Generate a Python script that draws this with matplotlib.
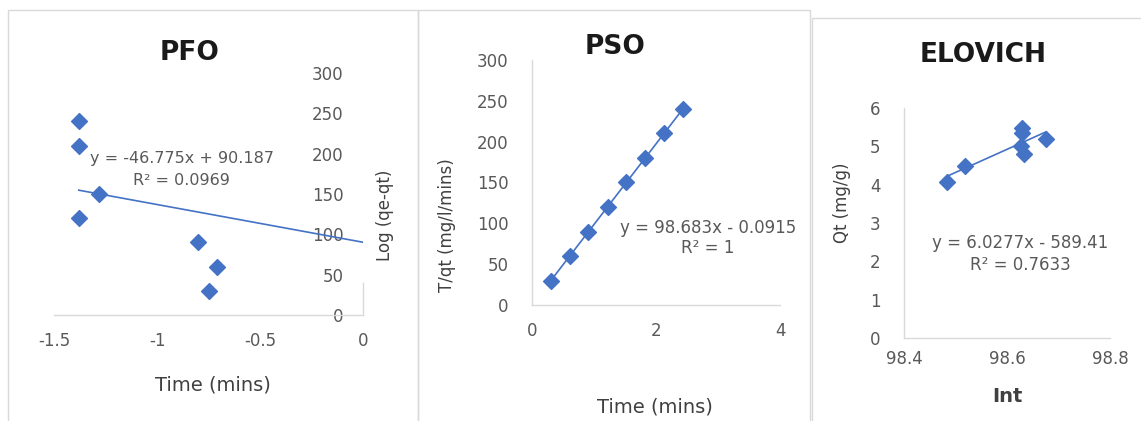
import matplotlib
matplotlib.use("Agg")
import matplotlib.pyplot as plt
from matplotlib.patches import Rectangle

plt.rcParams['font.family'] = ['DejaVu Sans']
plt.rcParams['axes.unicode_minus'] = False

# PFO
pfo_x = [-1.38, -1.38, -1.28, -1.38, -0.80, -0.71, -0.75]
pfo_y = [240, 210, 150, 120, 90, 60, 30]
pfo_fit = (-46.775, 90.187)
pfo_eq = ["y = -46.775x + 90.187", "R² = 0.0969"]

# PSO
pso_x = [0.30, 0.61, 0.91, 1.22, 1.52, 1.82, 2.13, 2.43]
pso_y = [30, 60, 90, 120, 150, 180, 210, 240]
pso_fit = (98.683, -0.0915)
pso_eq = ["y = 98.683x - 0.0915", "R² = 1"]

# ELOVICH
elo_x = [98.484, 98.519, 98.630, 98.630, 98.627, 98.633, 98.675]
elo_y = [4.08, 4.48, 5.49, 5.34, 5.02, 4.80, 5.18]
elo_fit = (6.0277, -589.41)
elo_eq = ["y = 6.0277x - 589.41", "R² = 0.7633"]

W, H = 1141, 421
BLUE = '#4472C4'
GRID = '#D9D9D9'
TICK = '#595959'
LABEL = '#404040'

fig = plt.figure(figsize=(W / 100, H / 100), dpi=100)


def box(x0, y0, x1, y1):
    return [x0 / W, 1 - y1 / H, (x1 - x0) / W, (y1 - y0) / H]


def ftext(x, y, s, **kw):
    fig.text(x / W, 1 - y / H, s, ha='center', va='center', **kw)


# chart frames
for x0, y0, x1, y1 in [(8, 10, 418, 440), (418, 10, 810, 440), (812, 18, 1160, 440)]:
    fig.add_artist(Rectangle((x0 / W, 1 - y1 / H), (x1 - x0) / W, (y1 - y0) / H,
                             transform=fig.transFigure, fill=False, ec=GRID, lw=1))


def style(ax, xpad, ypad):
    for s in ['top', 'right']:
        ax.spines[s].set_visible(False)
    for s in ['left', 'bottom']:
        ax.spines[s].set_color(GRID)
        ax.spines[s].set_linewidth(1)
    ax.tick_params(length=0, labelsize=12, colors=TICK)
    ax.tick_params(axis='x', pad=xpad)
    ax.tick_params(axis='y', pad=ypad)
    ax.set_facecolor('none')


def trend(ax, fit, x0, x1):
    m, b = fit
    ax.plot([x0, x1], [m * x0 + b, m * x1 + b], color=BLUE, lw=1.2, zorder=2)


def equation(ax, lines, x, y0, y1, size):
    ax.text(x, y0, lines[0], transform=ax.transAxes, ha='center', va='center',
            fontsize=size, color=TICK)
    ax.text(x, y1, lines[1], transform=ax.transAxes, ha='center', va='center',
            fontsize=size, color=TICK)


# ---- PFO ----
ax1 = fig.add_axes(box(54, 73, 363, 315))
ax1.set_xlim(-1.5, 0)
ax1.set_ylim(0, 300)
ax1.set_xticks([-1.5, -1, -0.5, 0])
ax1.set_xticklabels(['-1.5', '-1', '-0.5', '0'])
ax1.set_yticks(range(0, 301, 50))
style(ax1, 12, 14)
ax1.spines['left'].set_position(('data', 0))
ax1.spines['left'].set_bounds(0, 40)
trend(ax1, pfo_fit, min(pfo_x), 0)
ax1.scatter(pfo_x, pfo_y, marker='D', s=65, color=BLUE, zorder=3)
equation(ax1, pfo_eq, 0.414, 0.645, 0.554, 11.5)
ftext(190, 53, 'PFO', fontsize=19, fontweight='bold', color='#1a1a1a')
ftext(213, 385, 'Time (mins)', fontsize=14, color=LABEL)
ftext(385, 215, 'Log (qe-qt)', fontsize=12, color=LABEL, rotation=90)

# ---- PSO ----
ax2 = fig.add_axes(box(532, 60, 780, 305))
ax2.set_xlim(0, 4)
ax2.set_ylim(0, 300)
ax2.set_xticks([0, 2, 4])
ax2.set_yticks(range(0, 301, 50))
style(ax2, 12, 17)
trend(ax2, pso_fit, min(pso_x), max(pso_x))
ax2.scatter(pso_x, pso_y, marker='D', s=65, color=BLUE, zorder=3)
equation(ax2, pso_eq, 0.71, 0.314, 0.233, 12)
ftext(615, 47, 'PSO', fontsize=19, fontweight='bold', color='#1a1a1a')
ftext(655, 407, 'Time (mins)', fontsize=14, color=LABEL)
ftext(447, 225, 'T/qt (mg/l/mins)', fontsize=12, color=LABEL, rotation=90)

# ---- ELOVICH ----
ax3 = fig.add_axes(box(904, 108, 1110, 338))
ax3.set_xlim(98.4, 98.8)
ax3.set_ylim(0, 6)
ax3.set_xticks([98.4, 98.6, 98.8])
ax3.set_xticklabels(['98.4', '98.6', '98.8'])
ax3.set_yticks(range(0, 7))
style(ax3, 9, 17)
trend(ax3, elo_fit, min(elo_x), max(elo_x))
ax3.scatter(elo_x, elo_y, marker='D', s=65, color=BLUE, zorder=3)
equation(ax3, elo_eq, 0.563, 0.413, 0.317, 12)
ftext(983, 55, 'ELOVICH', fontsize=19, fontweight='bold', color='#1a1a1a')
ftext(1007, 397, 'Int', fontsize=14, fontweight='bold', color=LABEL)
ftext(842, 203, 'Qt (mg/g)', fontsize=12, color=LABEL, rotation=90)

fig.savefig('out.png', dpi=100, facecolor='white')
